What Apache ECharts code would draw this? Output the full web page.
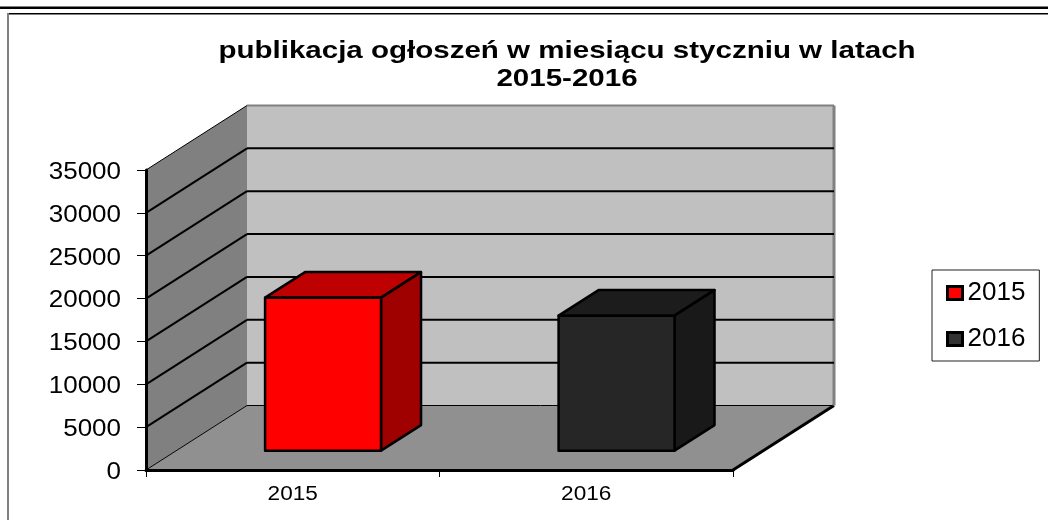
<!DOCTYPE html>
<html>
<head>
<meta charset="utf-8">
<style>
    html, body { margin: 0; padding: 0; background: #fff; }
    #chart { width: 1048px; height: 520px; }
</style>
</head>
<body>
<div id="chart"></div>
<script src="https://cdn.jsdelivr.net/npm/echarts@6/dist/echarts.min.js"></script>
<script>
var categories = ['2015', '2016'];
var values2015 = [[0, 17850]];
var values2016 = [[1, 15750]];
var yTicks = [0, 5000, 10000, 15000, 20000, 25000, 30000, 35000];
var titleText = 'publikacja ogłoszeń w miesiącu styczniu w latach\n2015-2016';

// 3d look: how far the back wall is pushed from the front of the plot
var depthX = 101;
var depthY = -64.5;
var barInset = 0.3;
var barDepth = 0.396;
var barRatio = 0.395;
var fontName = '"Liberation Sans", Arial, sans-serif';
// the source picture was stretched sideways, axis labels can't do that so they are custom text
var stretch = 1.13;

function poly(points, fill) {
    return {type: 'polygon', shape: {points: points}, style: {fill: fill}};
}
function line(a, b, color, width) {
    return {
        type: 'line',
        shape: {x1: a[0], y1: a[1], x2: b[0], y2: b[1]},
        style: {stroke: color, lineWidth: width}
    };
}
function label(text, x, y, size, align) {
    return {
        type: 'text',
        x: x,
        y: y,
        scaleX: stretch,
        style: {
            text: text,
            textAlign: align,
            textVerticalAlign: 'middle',
            font: size + 'px ' + fontName,
            fill: '#000'
        }
    };
}

// floor, walls and the gridlines on them
function renderWalls(params, api) {
    var cs = params.coordSys;
    var value = api.value(0);
    var y = api.coord([0, value])[1];
    var left = cs.x, right = cs.x + cs.width;
    var backLeft = left + depthX, backRight = right + depthX, backY = y + depthY;
    var tickLabel = label(String(value), left - 25, y + 2.5, 23, 'right');

    if (value === 0) {
        var top = cs.y, bottom = cs.y + cs.height;
        return {
            type: 'group',
            children: [
                poly([[left, top], [backLeft, top + depthY], [backLeft, bottom + depthY], [left, bottom]], '#808080'),
                poly([[backLeft, top + depthY], [backRight, top + depthY], [backRight, bottom + depthY], [backLeft, bottom + depthY]], '#c0c0c0'),
                poly([[left, bottom], [right, bottom], [backRight, bottom + depthY], [backLeft, bottom + depthY]], '#909090'),
                line([left, bottom], [backLeft, backY], '#000', 1),
                line([backLeft, backY], [backRight, backY], '#000', 1),
                line([right, bottom], [backRight, backY], '#000', 3),
                line([backRight, top + depthY], [backRight, bottom + depthY], '#808080', 3),
                tickLabel
            ]
        };
    }
    if (value === yTicks[yTicks.length - 1]) {
        return {
            type: 'group',
            children: [
                line([left, y], [backLeft, backY], '#000', 1),
                line([backLeft, backY], [backRight, backY], '#808080', 2),
                tickLabel
            ]
        };
    }
    return {
        type: 'group',
        children: [
            line([left, y], [backLeft, backY], '#000', 2),
            line([backLeft, backY], [backRight, backY], '#000', 2),
            tickLabel
        ]
    };
}

function renderCategoryLabel(params, api) {
    var index = api.value(0);
    var p = api.coord([index, 0]);
    return label(categories[index], p[0], p[1] + 24.5, 20, 'center');
}

function renderBar(front, topFace, sideFace) {
    return function (params, api) {
        var base = api.coord([api.value(0), 0]);
        var head = api.coord([api.value(0), api.value(1)]);
        var w = api.size([1, 0])[0] * barRatio;
        var x0 = base[0] - w / 2 + depthX * barInset;
        var x1 = x0 + w;
        var y0 = base[1] + depthY * barInset;
        var y1 = head[1] + depthY * barInset;
        var dx = depthX * barDepth, dy = depthY * barDepth;
        var edge = {stroke: '#000', lineWidth: 2.5, lineJoin: 'round'};
        return {
            type: 'group',
            children: [
                {type: 'polygon', shape: {points: [[x0, y1], [x1, y1], [x1 + dx, y1 + dy], [x0 + dx, y1 + dy]]}, style: Object.assign({fill: topFace}, edge)},
                {type: 'polygon', shape: {points: [[x1, y1], [x1 + dx, y1 + dy], [x1 + dx, y0 + dy], [x1, y0]]}, style: Object.assign({fill: sideFace}, edge)},
                {type: 'polygon', shape: {points: [[x0, y1], [x1, y1], [x1, y0], [x0, y0]]}, style: Object.assign({fill: front}, edge)}
            ]
        };
    };
}

var myChart = echarts.init(document.getElementById('chart'));
var option = {
    animation: false,
    backgroundColor: '#fff',
    legend: {
        data: ['2015', '2016'],
        orient: 'vertical',
        left: 932,
        top: 270,
        padding: [10, 14, 9, 14],
        itemGap: 20,
        itemWidth: 15,
        itemHeight: 13,
        icon: 'rect',
        borderColor: '#222',
        borderWidth: 1,
        backgroundColor: '#fff',
        itemStyle: {borderColor: '#000', borderWidth: 3},
        textStyle: {fontFamily: fontName, fontSize: 26, color: '#000', padding: [0, 0, 0, 0]}
    },
    grid: {left: 146, top: 170, width: 587, height: 300, containLabel: false},
    xAxis: {
        type: 'category',
        data: categories,
        z: 5,
        axisLine: {lineStyle: {color: '#000', width: 3}},
        axisTick: {show: true, length: 7, lineStyle: {color: '#000', width: 1}},
        axisLabel: {show: false}
    },
    yAxis: {
        type: 'value',
        min: 0,
        max: 35000,
        interval: 5000,
        z: 5,
        splitLine: {show: false},
        axisLine: {show: true, lineStyle: {color: '#000', width: 3}},
        axisTick: {show: true, length: 9, lineStyle: {color: '#000', width: 1}},
        axisLabel: {show: false}
    },
    series: [
        {
            type: 'custom',
            name: 'walls',
            z: 1,
            silent: true,
            renderItem: renderWalls,
            data: yTicks.map(function (v) { return [v]; })
        },
        {
            type: 'custom',
            name: 'categoryLabels',
            z: 1,
            silent: true,
            renderItem: renderCategoryLabel,
            data: categories.map(function (c, i) { return [i]; })
        },
        {
            type: 'custom',
            name: '2015',
            z: 3,
            itemStyle: {color: '#ff0000'},
            renderItem: renderBar('#ff0000', '#bf0000', '#9f0000'),
            data: values2015
        },
        {
            type: 'custom',
            name: '2016',
            z: 3,
            itemStyle: {color: '#333333'},
            renderItem: renderBar('#262626', '#1c1c1c', '#191919'),
            data: values2016
        }
    ],
    graphic: [
        {type: 'rect', silent: true, shape: {x: 0, y: 6.5, width: 1048, height: 2.5}, style: {fill: '#000'}},
        {type: 'rect', silent: true, shape: {x: 8, y: 13, width: 1040, height: 1.5}, style: {fill: '#000'}},
        {type: 'rect', silent: true, shape: {x: 7, y: 13, width: 2, height: 507}, style: {fill: '#808080'}},
        {
            type: 'text',
            silent: true,
            x: 567,
            y: 37,
            scaleX: 1.23,
            style: {
                text: titleText,
                textAlign: 'center',
                font: 'bold 24px ' + fontName,
                lineHeight: 28,
                fill: '#000'
            }
        }
    ]
};
myChart.setOption(option);
</script>
</body>
</html>
